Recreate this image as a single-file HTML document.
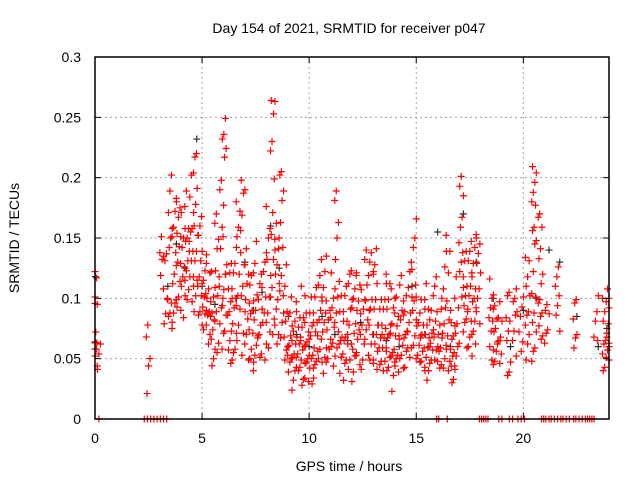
<!DOCTYPE html>
<html><head><meta charset="utf-8"><style>
body{margin:0;background:#fff}
svg{display:block;font-family:"Liberation Sans",sans-serif}
</style></head><body>
<svg id="c" width="640" height="480" viewBox="0 0 640 480">
<rect x="0" y="0" width="640" height="480" fill="#fff"/>
<g id="grid"></g>
<g id="dark"></g>
<g id="red"></g>
<g id="axes"></g>
<text x="349" y="33" font-size="14" text-anchor="middle">Day 154 of 2021, SRMTID for receiver p047</text>
<text x="349" y="471" font-size="14" text-anchor="middle">GPS time / hours</text>
<text x="19" y="238" font-size="14" text-anchor="middle" transform="rotate(-90 19 238)">SRMTID / TECUs</text>
</svg>
<script>
const xTicks=[0,5,10,15,20];
const yTicks=[0,0.05,0.1,0.15,0.2,0.25,0.3];
const yTickLabels=["0","0.05","0.1","0.15","0.2","0.25","0.3"];
const colTimes=[0,0.15,2.5,3.1,3.3,3.5,3.7,3.9,4.1,4.3,4.5,4.7,4.9,5.1,5.3,5.5,5.7,5.9,6.05,6.3,6.5,6.7,6.9,7.1,7.3,7.5,7.7,7.9,8.1,8.3,8.5,8.7,8.9,9.1,9.3,9.5,9.7,9.9,10.1,10.3,10.5,10.7,10.9,11.1,11.3,11.5,11.7,11.9,12.1,12.3,12.5,12.7,12.9,13.1,13.3,13.5,13.7,13.9,14.1,14.3,14.5,14.7,14.9,15.1,15.3,15.5,15.7,15.9,16.1,16.3,16.5,16.7,16.9,17.1,17.3,17.5,17.7,17.9,18.5,18.7,18.9,19.3,19.6,19.9,20.2,20.5,20.8,21.1,21.6,22.4,23.4,23.8,24.0];
const colValues=[
[0.12,0.118,0.1,0.098,0.095,0.07,0.065,0.062,0.06,0.058,0.05,0.045],
[0.063,0.06,0.055,0.04],
[0.08,0.068,0.048,0.045,0.02],
[0.15,0.14,0.135,0.13,0.12],
[0.138,0.13,0.11,0.1,0.085,0.08],
[0.2,0.19,0.17,0.16,0.15,0.14,0.1,0.095,0.09,0.085,0.078],
[0.18,0.17,0.16,0.15,0.14,0.12,0.11,0.1,0.095,0.09,0.075],
[0.185,0.175,0.165,0.155,0.15,0.145,0.13,0.125,0.115,0.1,0.095,0.09],
[0.17,0.16,0.15,0.14,0.13,0.125,0.12,0.11,0.1,0.085],
[0.19,0.175,0.16,0.15,0.145,0.14,0.13,0.125,0.115,0.105,0.1],
[0.2,0.185,0.17,0.16,0.155,0.145,0.14,0.13,0.12,0.11,0.095],
[0.22,0.215,0.205,0.19,0.18,0.16,0.15,0.14,0.13,0.12,0.115,0.1,0.09],
[0.17,0.16,0.15,0.14,0.13,0.12,0.11,0.1,0.09,0.085,0.08],
[0.135,0.125,0.115,0.11,0.105,0.1,0.095,0.09,0.085,0.075],
[0.13,0.12,0.11,0.1,0.095,0.09,0.085,0.08,0.07,0.06],
[0.12,0.11,0.1,0.09,0.085,0.08,0.075,0.065,0.06,0.05,0.042],
[0.17,0.16,0.15,0.14,0.125,0.11,0.1,0.09,0.08,0.065,0.055],
[0.2,0.19,0.175,0.16,0.14,0.12,0.1,0.09,0.08,0.07,0.06],
[0.248,0.238,0.232,0.222,0.218,0.15,0.13,0.12,0.105,0.095,0.085,0.075],
[0.13,0.12,0.11,0.1,0.095,0.09,0.085,0.075,0.065,0.055,0.05,0.045],
[0.14,0.13,0.12,0.11,0.1,0.09,0.08,0.07,0.06,0.055],
[0.18,0.17,0.16,0.15,0.14,0.12,0.1,0.095,0.09,0.08,0.065],
[0.2,0.19,0.185,0.17,0.155,0.13,0.11,0.1,0.09,0.07,0.055],
[0.14,0.13,0.12,0.11,0.1,0.095,0.085,0.07,0.06,0.05],
[0.12,0.11,0.1,0.09,0.085,0.075,0.07,0.06,0.05,0.045],
[0.145,0.13,0.12,0.105,0.09,0.08,0.07,0.06,0.055,0.04],
[0.12,0.11,0.1,0.09,0.08,0.07,0.065,0.055,0.05],
[0.14,0.13,0.12,0.11,0.1,0.09,0.08,0.06,0.05],
[0.175,0.16,0.15,0.13,0.12,0.1,0.09,0.08,0.07,0.06],
[0.265,0.262,0.255,0.23,0.22,0.2,0.17,0.155,0.14,0.13,0.11,0.1,0.085,0.07],
[0.16,0.15,0.14,0.13,0.12,0.11,0.1,0.09,0.08,0.07,0.06],
[0.205,0.2,0.19,0.18,0.165,0.15,0.14,0.12,0.105,0.09,0.08,0.065],
[0.13,0.11,0.1,0.09,0.08,0.07,0.06,0.055,0.05],
[0.1,0.09,0.085,0.075,0.07,0.06,0.055,0.05,0.045,0.04],
[0.09,0.08,0.075,0.065,0.06,0.055,0.05,0.045,0.04,0.03,0.025],
[0.095,0.085,0.075,0.07,0.065,0.06,0.055,0.05,0.045,0.04],
[0.11,0.1,0.085,0.075,0.07,0.06,0.055,0.05,0.045,0.035,0.028],
[0.09,0.08,0.07,0.065,0.06,0.055,0.05,0.045,0.035,0.03],
[0.1,0.09,0.08,0.075,0.07,0.065,0.055,0.05,0.04,0.035,0.028],
[0.11,0.1,0.09,0.08,0.07,0.06,0.055,0.05,0.045,0.04],
[0.13,0.12,0.11,0.1,0.09,0.08,0.07,0.065,0.06,0.05,0.045],
[0.135,0.12,0.11,0.1,0.09,0.08,0.07,0.06,0.05,0.04],
[0.1,0.09,0.08,0.075,0.065,0.06,0.05,0.045],
[0.12,0.11,0.1,0.09,0.085,0.075,0.065,0.06,0.05,0.045],
[0.19,0.18,0.165,0.15,0.13,0.115,0.1,0.09,0.08,0.07,0.06],
[0.1,0.09,0.08,0.07,0.065,0.06,0.055,0.05,0.04,0.032],
[0.11,0.1,0.09,0.08,0.07,0.065,0.06,0.05,0.045],
[0.125,0.12,0.11,0.1,0.09,0.08,0.07,0.06,0.05,0.04],
[0.12,0.11,0.1,0.09,0.08,0.07,0.06,0.055,0.05,0.04,0.03],
[0.12,0.11,0.1,0.09,0.085,0.075,0.065,0.055,0.045],
[0.105,0.1,0.09,0.08,0.07,0.06,0.05,0.04],
[0.14,0.13,0.12,0.11,0.1,0.09,0.08,0.075,0.065,0.055],
[0.14,0.13,0.12,0.1,0.09,0.08,0.07,0.06,0.05,0.045],
[0.14,0.13,0.12,0.11,0.1,0.09,0.08,0.07,0.06,0.05,0.04],
[0.1,0.09,0.08,0.07,0.065,0.06,0.055,0.05,0.045],
[0.11,0.1,0.09,0.08,0.075,0.065,0.06,0.055,0.05,0.04],
[0.12,0.11,0.1,0.09,0.08,0.07,0.065,0.06,0.05,0.045,0.04],
[0.11,0.1,0.09,0.08,0.07,0.06,0.055,0.05,0.045,0.035,0.025],
[0.1,0.09,0.085,0.075,0.07,0.065,0.055,0.05,0.045,0.04],
[0.12,0.11,0.1,0.09,0.08,0.07,0.06,0.055,0.05,0.04],
[0.1,0.09,0.085,0.075,0.07,0.065,0.06,0.055,0.045],
[0.13,0.12,0.11,0.1,0.09,0.08,0.07,0.06,0.05],
[0.168,0.15,0.14,0.125,0.11,0.1,0.09,0.08,0.07,0.06],
[0.1,0.09,0.08,0.075,0.07,0.06,0.055,0.05,0.045],
[0.1,0.09,0.08,0.07,0.065,0.06,0.055,0.05,0.04],
[0.11,0.1,0.09,0.08,0.07,0.065,0.06,0.05,0.045,0.04,0.03],
[0.09,0.08,0.075,0.07,0.065,0.06,0.055,0.05,0.045],
[0.12,0.11,0.1,0.09,0.08,0.07,0.06,0.055,0.05],
[0.09,0.08,0.07,0.065,0.06,0.055,0.05,0.045,0.04],
[0.14,0.125,0.11,0.1,0.09,0.08,0.07,0.06,0.05,0.04],
[0.15,0.14,0.12,0.1,0.09,0.08,0.07,0.06,0.05,0.04],
[0.08,0.075,0.07,0.065,0.06,0.055,0.05,0.045,0.04,0.035,0.03],
[0.12,0.1,0.09,0.08,0.07,0.065,0.06,0.05,0.045],
[0.2,0.195,0.185,0.165,0.16,0.145,0.14,0.13,0.12,0.11,0.1],
[0.14,0.13,0.12,0.11,0.1,0.095,0.09,0.085,0.08,0.07,0.06],
[0.145,0.14,0.13,0.12,0.11,0.1,0.09,0.08,0.07,0.06,0.05],
[0.15,0.14,0.13,0.12,0.11,0.1,0.095,0.09,0.08,0.075,0.07,0.06],
[0.155,0.145,0.135,0.13,0.12,0.11,0.1,0.09,0.08],
[0.115,0.105,0.1,0.09,0.085,0.08,0.075,0.06,0.055,0.05],
[0.095,0.09,0.085,0.075,0.07,0.065,0.055,0.05,0.045],
[0.095,0.085,0.08,0.07,0.065,0.06,0.055,0.045],
[0.105,0.1,0.085,0.08,0.075,0.065,0.045,0.04,0.035],
[0.11,0.1,0.095,0.09,0.085,0.075,0.065,0.05],
[0.1,0.095,0.085,0.07,0.065,0.055],
[0.135,0.13,0.12,0.11,0.1,0.09,0.085,0.08,0.07,0.06,0.05],
[0.207,0.205,0.195,0.19,0.18,0.175,0.16,0.155,0.15,0.145,0.12,0.105,0.1,0.09,0.08,0.07,0.06,0.055,0.05],
[0.17,0.165,0.16,0.14,0.135,0.12,0.11,0.1,0.095,0.09,0.085,0.075,0.07,0.065],
[0.097,0.09,0.085,0.075,0.07,0.065],
[0.125,0.12,0.11,0.1,0.095,0.085,0.075],
[0.1,0.095,0.085,0.07,0.065,0.06],
[0.1,0.09,0.08,0.07,0.065],
[0.1,0.095,0.09,0.08,0.07,0.065,0.06,0.055,0.05,0.045,0.04],
[0.11,0.1,0.09,0.08,0.07,0.065,0.06,0.055,0.05]
];
const zeroTimes=[0.18,2.3,2.45,2.6,2.75,2.9,3.05,3.2,3.35,15.95,16.05,16.45,17.95,18.05,18.15,18.25,18.35,18.85,19.0,19.35,19.5,19.75,19.9,20.05,20.85,20.95,21.05,21.2,21.3,21.45,21.6,21.75,21.85,22.0,22.15,22.35,22.45,22.6,22.75,22.9,23.0,23.1,23.2,23.3];
const darkTimes=[0.02,3.4,3.8,4.2,4.75,5.0,5.6,6.1,6.6,7.0,7.4,7.8,8.2,8.6,9.0,9.4,10.0,10.6,11.2,11.8,12.4,13.0,13.6,14.2,14.8,15.4,16.0,16.6,17.2,17.8,18.6,19.4,20.0,20.6,21.2,21.7,22.5,23.5,23.9];
const darkValues=[0.118,0.11,0.145,0.125,0.232,0.11,0.095,0.12,0.1,0.13,0.09,0.105,0.16,0.125,0.06,0.07,0.06,0.085,0.07,0.065,0.08,0.07,0.065,0.06,0.11,0.07,0.155,0.06,0.17,0.13,0.1,0.06,0.09,0.1,0.14,0.13,0.085,0.06,0.075];

const NS="http://www.w3.org/2000/svg";
const X0=95,X1=609,Y0=419,Y1=57;
function xs(t){return X0+(X1-X0)*t/24;}
function ys(v){return Y0-(Y0-Y1)*v/0.3;}
function mk(tag,attrs,parent){const e=document.createElementNS(NS,tag);for(const k in attrs)e.setAttribute(k,attrs[k]);parent.appendChild(e);return e;}
const grid=document.getElementById('grid'),axes=document.getElementById('axes');
xTicks.forEach(t=>{
  if(t>0){const g=mk('line',{x1:xs(t),x2:xs(t),y1:Y1,y2:Y0,stroke:'#a0a0a0','stroke-dasharray':'2,3'},grid);
  
  }
  mk('line',{x1:xs(t),x2:xs(t),y1:Y0,y2:Y0-6,stroke:'#000'},axes);
  mk('line',{x1:xs(t),x2:xs(t),y1:Y1,y2:Y1+6,stroke:'#000'},axes);
  const l=mk('text',{x:xs(t),y:Y0+24,'font-size':14,'text-anchor':'middle'},axes);
  l.textContent=String(t);
  
  
});
yTicks.forEach((v,i)=>{
  if(v>0&&v<0.3){const g=mk('line',{x1:X0,x2:X1,y1:ys(v),y2:ys(v),stroke:'#a0a0a0','stroke-dasharray':'2,3'},grid);
  
  }
  mk('line',{x1:X0,x2:X0+6,y1:ys(v),y2:ys(v),stroke:'#000'},axes);
  mk('line',{x1:X1,x2:X1-6,y1:ys(v),y2:ys(v),stroke:'#000'},axes);
  const l=mk('text',{x:X0-14,y:ys(v)+5,'font-size':14,'text-anchor':'end'},axes);
  l.textContent=yTickLabels[i];
  
  
});
mk('rect',{x:X0,y:Y1,width:X1-X0,height:Y0-Y1,fill:'none',stroke:'#000','stroke-width':1.5},axes);
function plus(g,x,y,c){
  const p=mk('path',{d:`M${x-3.5},${y}h7M${x},${y-3.5}v7`,stroke:c,'stroke-width':1.2,fill:'none'},g);
  
  
}
const dark=document.getElementById('dark'),red=document.getElementById('red');
darkTimes.forEach((t,i)=>plus(dark,xs(t),ys(darkValues[i]),'#303030'));
colTimes.forEach((t,i)=>{
  const vals=colValues[i];
  vals.forEach((v,j)=>{
    const tt=Math.max(0,Math.min(24,t+(((j*5+i)%7)-3)*0.035));
    const dy=(((i*7+j*3)%5)-2)*1.3;
    plus(red,xs(tt),ys(v)+dy,'#ff0000');
  });
});
zeroTimes.forEach(t=>plus(red,xs(t),ys(0),'#ff0000'));
</script>
</body></html>
